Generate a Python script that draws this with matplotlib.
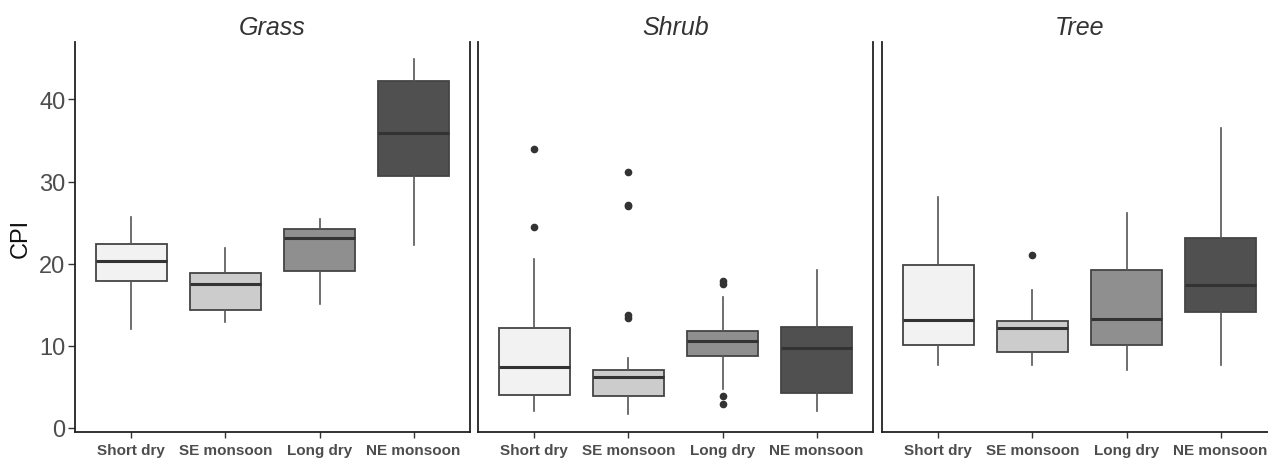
import matplotlib
matplotlib.use("Agg")
import matplotlib.pyplot as plt

plt.rcParams['font.family'] = ['Liberation Sans', 'DejaVu Sans']

seasons = ["Short dry", "SE monsoon", "Long dry", "NE monsoon"]
fills = ["#F2F2F2", "#CCCCCC", "#8F8F8F", "#505050"]
panels = ["Grass", "Shrub", "Tree"]

# five-number summaries per season: low whisker, Q1, median, Q3, high whisker
grass_low = [12.1, 12.9, 15.1, 22.3]
grass_q1 = [17.9, 14.4, 19.1, 30.7]
grass_med = [20.3, 17.5, 23.1, 35.9]
grass_q3 = [22.4, 18.9, 24.2, 42.2]
grass_high = [25.7, 21.9, 25.5, 44.9]
grass_out = [[], [], [], []]

shrub_low = [2.0, 1.7, 4.75, 2.0]
shrub_q1 = [4.0, 3.85, 8.8, 4.3]
shrub_med = [7.4, 6.25, 10.55, 9.7]
shrub_q3 = [12.15, 7.0, 11.85, 12.3]
shrub_high = [20.6, 8.55, 15.9, 19.25]
shrub_out = [[34.0, 24.5], [31.2, 27.2, 27.0, 13.8, 13.4], [17.9, 17.5, 3.9, 2.9], []]

tree_low = [7.6, 7.6, 7.0, 7.6]
tree_q1 = [10.15, 9.3, 10.15, 14.1]
tree_med = [13.1, 12.2, 13.3, 17.35]
tree_q3 = [19.85, 13.0, 19.2, 23.15]
tree_high = [28.15, 16.85, 26.2, 36.5]
tree_out = [[], [21.0], [], []]

data = {
    "Grass": (grass_low, grass_q1, grass_med, grass_q3, grass_high, grass_out),
    "Shrub": (shrub_low, shrub_q1, shrub_med, shrub_q3, shrub_high, shrub_out),
    "Tree": (tree_low, tree_q1, tree_med, tree_q3, tree_high, tree_out),
}

fig = plt.figure(figsize=(12.68, 4.6), dpi=100)
lefts = [75 / 1268, 478 / 1268, 882 / 1268]
w = 395 / 1268
bottom = 1 - 433 / 460
h = (433 - 43) / 460

for p, name in enumerate(panels):
    ax = fig.add_axes([lefts[p], bottom, w, h])
    low, q1, med, q3, high, out = data[name]
    stats = []
    for i in range(4):
        stats.append(dict(whislo=low[i], q1=q1[i], med=med[i], q3=q3[i],
                          whishi=high[i], fliers=out[i]))
    bp = ax.bxp(stats, positions=range(1, 5), widths=0.75, patch_artist=True,
                showcaps=False,
                boxprops=dict(edgecolor="#444444", linewidth=1.3),
                medianprops=dict(color="#333333", linewidth=2.2),
                whiskerprops=dict(color="#555555", linewidth=1.2),
                flierprops=dict(marker="o", markersize=4.5, markerfacecolor="#333333",
                                markeredgecolor="#333333"))
    for patch, c in zip(bp["boxes"], fills):
        patch.set_facecolor(c)

    ax.set_xlim(0.4, 4.6)
    ax.set_ylim(-0.5, 47.0)
    ax.set_xticks(range(1, 5))
    ax.set_xticklabels(seasons, fontsize=11, fontweight="bold", color="#4D4D4D")
    ax.tick_params(axis="x", length=4, width=1, color="#333333", pad=4)
    ax.set_title(name, fontsize=18, style="italic", color="#333333", pad=6)

    ax.spines["top"].set_visible(False)
    for s in ["left", "right", "bottom"]:
        ax.spines[s].set_linewidth(1.3)
        ax.spines[s].set_color("#222222")
    if p == 2:
        ax.spines["right"].set_visible(False)

    if p == 0:
        ax.set_yticks([0, 10, 20, 30, 40])
        ax.tick_params(axis="y", labelsize=17, labelcolor="#4D4D4D", length=5,
                       width=1, color="#333333", pad=2)
        ax.set_ylabel("CPI", fontsize=17, color="#111111", labelpad=5)
    else:
        ax.set_yticks([])

fig.savefig("out.png", dpi=100)
